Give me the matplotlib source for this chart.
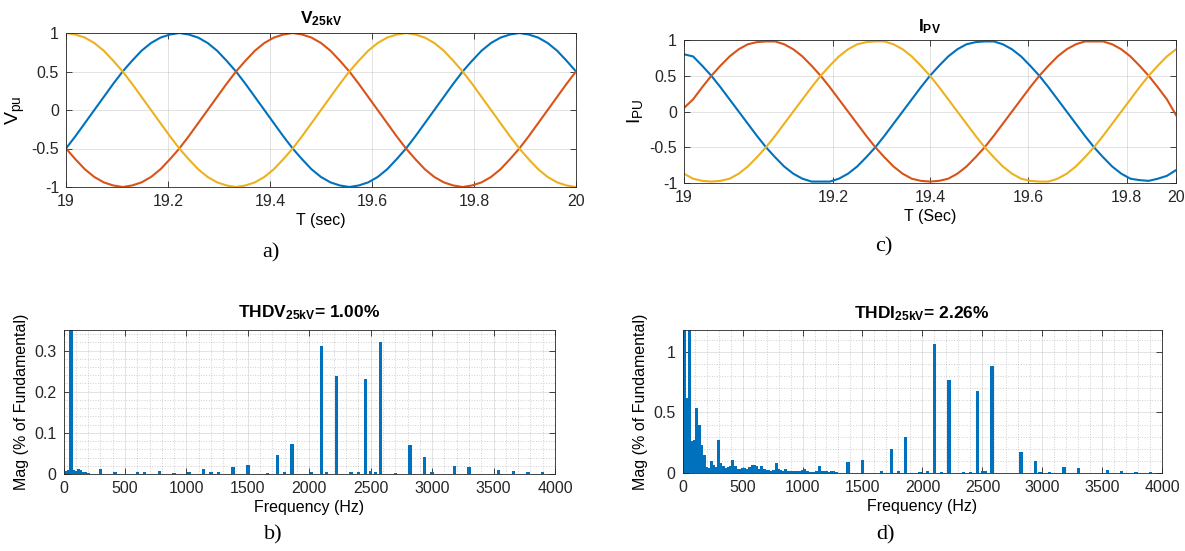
import numpy as np
import matplotlib
matplotlib.use('Agg')
import matplotlib.pyplot as plt
from matplotlib.ticker import MultipleLocator

plt.rcParams['font.family'] = ['Liberation Sans', 'DejaVu Sans']
plt.rcParams['mathtext.fontset'] = 'custom'
plt.rcParams['mathtext.rm'] = 'Liberation Sans'
plt.rcParams['mathtext.it'] = 'Liberation Sans:italic'
plt.rcParams['mathtext.bf'] = 'Liberation Sans:bold'

BLUE = '#0072BD'
ORANGE = '#D95319'
YELLOW = '#EDB120'
INK = '#262626'

# a) 25 kV bus voltage (pu), 55 samples between 19 s and 20 s
v_time = np.linspace(19, 20, 55)
v_blue = [-0.50, -0.34, -0.17, 0.00, 0.17, 0.34, 0.50, 0.64, 0.77, 0.87, 0.94, 0.98,
          1.00, 0.98, 0.94, 0.87, 0.77, 0.64, 0.50, 0.34, 0.17, 0.00, -0.17, -0.34,
          -0.50, -0.64, -0.77, -0.87, -0.94, -0.98, -1.00, -0.98, -0.94, -0.87, -0.77, -0.64,
          -0.50, -0.34, -0.17, 0.00, 0.17, 0.34, 0.50, 0.64, 0.77, 0.87, 0.94, 0.98,
          1.00, 0.98, 0.94, 0.87, 0.77, 0.64, 0.50]
v_red = [-0.50, -0.64, -0.77, -0.87, -0.94, -0.98, -1.00, -0.98, -0.94, -0.87, -0.77, -0.64,
         -0.50, -0.34, -0.17, 0.00, 0.17, 0.34, 0.50, 0.64, 0.77, 0.87, 0.94, 0.98,
         1.00, 0.98, 0.94, 0.87, 0.77, 0.64, 0.50, 0.34, 0.17, 0.00, -0.17, -0.34,
         -0.50, -0.64, -0.77, -0.87, -0.94, -0.98, -1.00, -0.98, -0.94, -0.87, -0.77, -0.64,
         -0.50, -0.34, -0.17, 0.00, 0.17, 0.34, 0.50]
v_yellow = [1.00, 0.98, 0.94, 0.87, 0.77, 0.64, 0.50, 0.34, 0.17, 0.00, -0.17, -0.34,
            -0.50, -0.64, -0.77, -0.87, -0.94, -0.98, -1.00, -0.98, -0.94, -0.87, -0.77, -0.64,
            -0.50, -0.34, -0.17, 0.00, 0.17, 0.34, 0.50, 0.64, 0.77, 0.87, 0.94, 0.98,
            1.00, 0.98, 0.94, 0.87, 0.77, 0.64, 0.50, 0.34, 0.17, 0.00, -0.17, -0.34,
            -0.50, -0.64, -0.77, -0.87, -0.94, -0.98, -1.00]

# c) PV inverter current (pu)
i_time = np.linspace(19, 20, 55)
i_blue = [0.80, 0.77, 0.64, 0.50, 0.34, 0.17, 0.00, -0.17, -0.34, -0.50, -0.64, -0.77,
          -0.87, -0.94, -0.98, -0.98, -0.98, -0.94, -0.87, -0.77, -0.64, -0.50, -0.34, -0.17,
          0.00, 0.17, 0.34, 0.50, 0.64, 0.77, 0.87, 0.94, 0.97, 0.98, 0.98, 0.94,
          0.87, 0.77, 0.64, 0.50, 0.34, 0.17, 0.00, -0.17, -0.34, -0.50, -0.64, -0.77,
          -0.87, -0.94, -0.96, -0.97, -0.94, -0.90, -0.82]
i_red = [0.05, 0.17, 0.34, 0.50, 0.64, 0.77, 0.87, 0.94, 0.97,
         0.98, 0.98, 0.94, 0.87, 0.77, 0.64, 0.50, 0.34, 0.17, 0.00, -0.17, -0.34,
         -0.50, -0.64, -0.77, -0.87, -0.94, -0.97, -0.98, -0.97, -0.94, -0.87, -0.77, -0.64,
         -0.50, -0.34, -0.17, 0.00, 0.17, 0.34, 0.50, 0.64, 0.77, 0.87, 0.94, 0.98,
         0.98, 0.98, 0.94, 0.87, 0.77, 0.64, 0.50, 0.34, 0.17, -0.05]
i_yellow = [-0.87, -0.94, -0.97, -0.98, -0.97, -0.94, -0.87, -0.77, -0.64, -0.50, -0.34, -0.17,
            0.00, 0.17, 0.34, 0.50, 0.64, 0.77, 0.87, 0.94, 0.97,
            0.98, 0.98, 0.94, 0.87, 0.77, 0.64, 0.50, 0.34, 0.17, 0.00, -0.17, -0.34,
            -0.50, -0.64, -0.77, -0.87, -0.94, -0.97, -0.98, -0.98, -0.94, -0.87, -0.77, -0.64,
            -0.50, -0.34, -0.17, 0.00, 0.17, 0.34, 0.50, 0.64, 0.77, 0.87]
i_tick_pos = [19, 19.303, 19.5, 19.7, 19.9, 20]
i_tick_labels = ['19', '19.2', '19.4', '19.6', '19.8', '20']

# b) voltage spectrum, % of fundamental (60 Hz fundamental clipped)
b_freq = [20, 40, 60, 80, 100, 120, 140, 160, 180, 200,
          300, 420, 600, 660, 780, 900, 1020, 1140, 1200, 1260,
          1380, 1500, 1660, 1740, 1800, 1860, 2020, 2100, 2140, 2220,
          2340, 2400, 2460, 2500, 2540, 2580, 2700, 2820, 2940, 3000,
          3180, 3300, 3540, 3660, 3780, 3900]
b_mag = [0.008, 0.010, 100, 0.010, 0.008, 0.013, 0.009, 0.006, 0.005, 0.003,
         0.013, 0.004, 0.004, 0.004, 0.008, 0.003, 0.006, 0.011, 0.004, 0.006,
         0.018, 0.022, 0.003, 0.046, 0.004, 0.074, 0.004, 0.310, 0.004, 0.238,
         0.004, 0.005, 0.230, 0.007, 0.006, 0.320, 0.003, 0.070, 0.042, 0.004,
         0.020, 0.016, 0.010, 0.008, 0.004, 0.006]

# d) current spectrum: 20 Hz bins up to 1280 Hz, then the switching harmonics
d_freq_low = np.arange(20, 1300, 20)
d_mag_low = [3.0, 0.62, 100, 0.26, 0.27, 0.54, 0.40, 0.23, 0.15, 0.05,
             0.04, 0.10, 0.07, 0.05, 0.27, 0.08, 0.06, 0.04, 0.05, 0.06,
             0.11, 0.06, 0.03, 0.03, 0.04, 0.04, 0.03, 0.05, 0.07, 0.065,
             0.06, 0.03, 0.055, 0.03, 0.025, 0.025, 0.02, 0.025, 0.08, 0.03,
             0.025, 0.02, 0.03, 0.02, 0.015, 0.02, 0.02, 0.015, 0.02, 0.025,
             0.03, 0.02, 0.01, 0.01, 0.01, 0.015, 0.055, 0.02, 0.015, 0.015,
             0.01, 0.015, 0.02, 0.005]
d_freq_high = [1380, 1500, 1660, 1740, 1800, 1860, 1980, 2040, 2100, 2160,
               2220, 2340, 2400, 2460, 2500, 2520, 2580, 2820, 2940, 2980,
               3060, 3180, 3300, 3540, 3660, 3780, 3900]
d_mag_high = [0.09, 0.107, 0.02, 0.197, 0.015, 0.296, 0.01, 0.015, 1.063, 0.01,
              0.77, 0.005, 0.01, 0.674, 0.02, 0.02, 0.88, 0.175, 0.10, 0.01,
              0.005, 0.05, 0.04, 0.025, 0.018, 0.008, 0.01]

W, H = 1185, 551
fig = plt.figure(figsize=(W / 100, H / 100), dpi=100)


def px_axes(left, top, right, bottom):
    return fig.add_axes([left / W, 1 - bottom / H, (right - left) / W, (bottom - top) / H])


def matlab_style(ax, minor=False):
    for s in ax.spines.values():
        s.set_color(INK)
        s.set_linewidth(0.6)
    ax.tick_params(direction='in', length=4, width=0.6, top=True, right=True,
                   labelsize=11.5, colors=INK, pad=5)
    ax.grid(True, which='major', color=INK, alpha=0.15, linewidth=0.6)
    if minor:
        ax.tick_params(which='minor', length=0)
        ax.grid(True, which='minor', color=INK, alpha=0.22, linestyle=':', linewidth=0.7)
    ax.set_axisbelow(True)


def title_at(x, y, s):
    fig.text(x / W, 1 - y / H, s, ha='center', va='center', fontsize=12.5,
             fontweight='bold', color='black')


def panel_letter(x, y, s):
    fig.text(x / W, 1 - y / H, s, ha='center', va='center', fontsize=16,
             family=['Liberation Serif', 'DejaVu Serif'])


# ---- a) ----
ax_a = px_axes(66, 33, 576, 187)
ax_a.plot(v_time, v_blue, color=BLUE, lw=1.5)
ax_a.plot(v_time, v_red, color=ORANGE, lw=1.5)
ax_a.plot(v_time, v_yellow, color=YELLOW, lw=1.5)
ax_a.set_xlim(19, 20)
ax_a.set_ylim(-1, 1)
ax_a.set_xticks([19, 19.2, 19.4, 19.6, 19.8, 20])
ax_a.set_xticklabels(['19', '19.2', '19.4', '19.6', '19.8', '20'])
ax_a.set_yticks([-1, -0.5, 0, 0.5, 1])
ax_a.set_yticklabels(['-1', '-0.5', '0', '0.5', '1'])
matlab_style(ax_a)
ax_a.set_xlabel('T (sec)', fontsize=11.5, labelpad=3)
ax_a.set_ylabel(r'$\mathrm{V}_{\mathrm{pu}}$', fontsize=14, labelpad=3)
title_at(321, 19, r'V$_{\mathbf{25kV}}$')
panel_letter(271, 253, 'a)')

# ---- c) ----
ax_c = px_axes(684, 40, 1176, 183)
ax_c.plot(i_time, i_blue, color=BLUE, lw=1.5)
ax_c.plot(i_time, i_red, color=ORANGE, lw=1.5)
ax_c.plot(i_time, i_yellow, color=YELLOW, lw=1.5)
ax_c.set_xlim(19, 20)
ax_c.set_ylim(-1, 1)
ax_c.set_xticks(i_tick_pos)
ax_c.set_xticklabels(i_tick_labels)
ax_c.set_yticks([-1, -0.5, 0, 0.5, 1])
ax_c.set_yticklabels(['-1', '-0.5', '0', '0.5', '1'])
matlab_style(ax_c)
ax_c.set_xlabel('T (Sec)', fontsize=11.5, labelpad=3)
ax_c.set_ylabel(r'$\mathrm{I}_{\mathrm{PU}}$', fontsize=14, labelpad=3)
title_at(930, 27, r'I$_{\mathbf{PV}}$')
panel_letter(884, 247, 'c)')

# ---- b) ----
ax_b = px_axes(63.5, 330, 555, 474)
ax_b.bar(b_freq, b_mag, width=28, color=BLUE, linewidth=0)
ax_b.set_xlim(0, 4000)
ax_b.set_ylim(0, 0.35)
ax_b.set_xticks(range(0, 4001, 500))
ax_b.set_yticks([0, 0.1, 0.2, 0.3])
ax_b.set_yticklabels(['0', '0.1', '0.2', '0.3'])
ax_b.xaxis.set_minor_locator(MultipleLocator(100))
ax_b.yaxis.set_minor_locator(MultipleLocator(0.02))
matlab_style(ax_b, minor=True)
ax_b.set_xlabel('Frequency (Hz)', fontsize=11.5, labelpad=3)
ax_b.set_ylabel('Mag (% of Fundamental)', fontsize=11.5, labelpad=4)
title_at(309, 313, r'THDV$_{\mathbf{25kV}}$= 1.00%')
panel_letter(273, 535, 'b)')

# ---- d) ----
ax_d = px_axes(682.5, 330, 1162.5, 473)
ax_d.bar(d_freq_low, d_mag_low, width=24, color=BLUE, linewidth=0)
ax_d.bar(d_freq_high, d_mag_high, width=28, color=BLUE, linewidth=0)
ax_d.set_xlim(0, 4000)
ax_d.set_ylim(0, 1.18)
ax_d.set_xticks(range(0, 4001, 500))
ax_d.set_yticks([0, 0.5, 1])
ax_d.set_yticklabels(['0', '0.5', '1'])
ax_d.xaxis.set_minor_locator(MultipleLocator(100))
ax_d.yaxis.set_minor_locator(MultipleLocator(0.1))
matlab_style(ax_d, minor=True)
ax_d.set_xlabel('Frequency (Hz)', fontsize=11.5, labelpad=3)
ax_d.set_ylabel('Mag (% of Fundamental)', fontsize=11.5, labelpad=4)
title_at(922, 314, r'THDI$_{\mathbf{25kV}}$= 2.26%')
panel_letter(886, 535, 'd)')

fig.savefig('out.png', dpi=100, facecolor='white')
